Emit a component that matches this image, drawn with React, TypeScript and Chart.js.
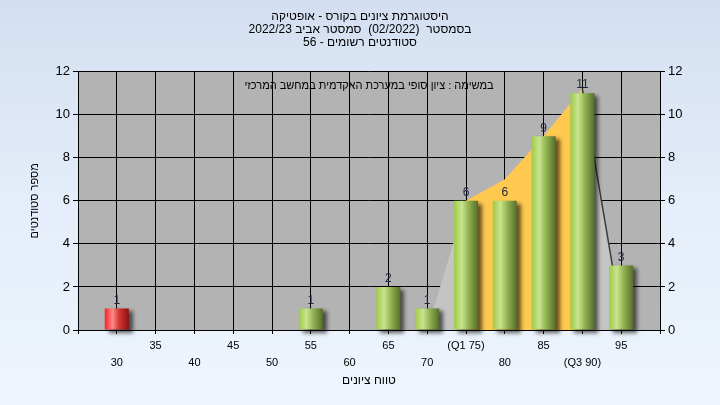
import React, { useEffect, useRef } from 'react';
import { Chart, registerables } from 'chart.js';

Chart.register(...registerables);

// ---- data ----
const categories = ['30', '35', '40', '45', '50', '55', '60', '65', '70', '(Q1 75)', '80', '85', '(Q3 90)', '95'];
const scores = [30, 35, 40, 45, 50, 55, 60, 65, 70, 75, 80, 85, 90, 95];
const counts = [1, 0, 0, 0, 0, 1, 0, 2, 1, 6, 6, 9, 11, 3];
const trend = [null, null, null, null, null, null, null, null, 0, 6, 7, 9, 11.2, 0.6];
const yTicks = [0, 2, 4, 6, 8, 10, 12];
const q1Score = 75;
const q3Score = 90;
const passScore = 55;
const titleLines = [
  'היסטוגרמת ציונים בקורס - אופטיקה',
  'בסמסטר  (02/2022)  סמסטר אביב 2022/23',
  'סטודנטים רשומים - 56',
];
const noteText = 'במשימה : ציון סופי במערכת האקדמית במחשב המרכזי';
const xTitle = 'טווח ציונים';
const yTitle = 'מספר סטודנטים';

// padded with an empty category on each side
const paddedLabels = ['', ...categories, ''].map((c, i) => {
  if (c === '') return ['', ''];
  const k = i - 1;
  return k % 2 === 1 ? [c, ''] : ['', c];
});
const paddedScores = [null, ...scores, null];
const paddedCounts = [null, ...counts, null];
const paddedTrend = [null, ...trend, null];

const FONT = 'Arial, "Liberation Sans", "DejaVu Sans", sans-serif';

function barFill(ctx: any) {
  const chart = ctx.chart;
  const score = paddedScores[ctx.dataIndex];
  const isRed = score !== null && (score as number) < passScore;
  const xs = chart.scales && chart.scales.x;
  if (!chart.chartArea || !xs) return isRed ? '#e03030' : '#90b848';
  const cx = xs.getPixelForValue(ctx.dataIndex);
  const step = Math.abs(xs.getPixelForValue(1) - xs.getPixelForValue(0));
  const half = (step * 0.62) / 2;
  const g = chart.ctx.createLinearGradient(cx - half, 0, cx + half, 0);
  if (isRed) {
    g.addColorStop(0, '#ff1c1c');
    g.addColorStop(0.32, '#ff8a8a');
    g.addColorStop(0.6, '#d23434');
    g.addColorStop(1, '#8e1010');
  } else {
    g.addColorStop(0, '#9fca48');
    g.addColorStop(0.32, '#c8e48e');
    g.addColorStop(0.6, '#93b352');
    g.addColorStop(1, '#566e2a');
  }
  return g;
}

const plotBgPlugin = {
  id: 'plotBg',
  beforeDraw(chart: any) {
    const { ctx, chartArea: a } = chart;
    ctx.save();
    ctx.fillStyle = '#b3b3b3';
    ctx.fillRect(a.left, a.top, a.right - a.left, a.bottom - a.top);
    ctx.restore();
  },
};

const shadowPlugin = {
  id: 'barShadow',
  beforeDatasetDraw(chart: any, args: any) {
    if (args.meta.type !== 'bar') return;
    const c = chart.ctx;
    c.save();
    c.shadowColor = 'rgba(0,0,0,0.6)';
    c.shadowBlur = 4;
    c.shadowOffsetX = 4;
    c.shadowOffsetY = 3;
  },
  afterDatasetDraw(chart: any, args: any) {
    if (args.meta.type !== 'bar') return;
    chart.ctx.restore();
  },
};

const labelsPlugin = {
  id: 'valueLabels',
  afterDatasetsDraw(chart: any) {
    const ctx = chart.ctx;
    chart.data.datasets.forEach((ds: any, di: number) => {
      if (ds.type !== 'bar') return;
      const meta = chart.getDatasetMeta(di);
      meta.data.forEach((el: any, i: number) => {
        const v = ds.data[i];
        if (!v) return;
        ctx.save();
        ctx.font = `12px ${FONT}`;
        ctx.fillStyle = '#1c2640';
        ctx.textAlign = 'center';
        ctx.textBaseline = 'bottom';
        ctx.fillText(String(v), el.x, el.y - 2);
        ctx.restore();
      });
    });
  },
  afterDraw(chart: any) {
    const { ctx, chartArea: a } = chart;
    ctx.save();
    ctx.font = `11px ${FONT}`;
    ctx.fillStyle = '#000';
    ctx.textAlign = 'center';
    ctx.textBaseline = 'middle';
    ctx.fillText(noteText, (a.left + a.right) / 2, a.top + 14);
    ctx.restore();
  },
};

export default function App() {
  const ref = useRef<HTMLCanvasElement | null>(null);

  useEffect(() => {
    document.body.style.margin = '0';
    const canvas = ref.current;
    if (!canvas) return;
    const inQ = (i: number) => {
      const s = paddedScores[i];
      return s !== null && (s as number) >= q1Score && (s as number) < q3Score;
    };
    const chart = new Chart(canvas, {
      data: {
        labels: paddedLabels as any,
        datasets: [
          {
            type: 'bar',
            data: paddedCounts as any,
            backgroundColor: barFill as any,
            borderWidth: 0,
            barPercentage: 0.62,
            categoryPercentage: 1,
            order: 1,
            clip: false as any,
            yAxisID: 'y',
          } as any,
          {
            type: 'line',
            data: paddedTrend as any,
            fill: 'origin',
            borderWidth: 1.5,
            pointRadius: 0,
            tension: 0,
            spanGaps: false,
            backgroundColor: '#c4c4c4',
            borderColor: 'rgba(0,0,0,0)',
            segment: {
              backgroundColor: (c: any) => (inQ(c.p0DataIndex) ? '#ffc94f' : '#c4c4c4'),
              borderColor: (c: any) => {
                const s = paddedScores[c.p0DataIndex];
                return s === q3Score ? '#3c3c3c' : 'rgba(0,0,0,0)';
              },
            },
            order: 2,
            yAxisID: 'y',
          } as any,
        ],
      },
      options: {
        responsive: false,
        animation: false,
        layout: { padding: 0 },
        font: { family: FONT } as any,
        plugins: {
          legend: { display: false },
          tooltip: { enabled: false },
          title: {
            display: true,
            text: titleLines,
            color: '#000',
            font: { family: FONT, size: 12, weight: 'normal', lineHeight: 1.1 },
            padding: { top: 10, bottom: 22 },
          },
        },
        scales: {
          x: {
            type: 'category',
            offset: false,
            grid: { color: '#000', lineWidth: 1, tickLength: 4, drawTicks: true, offset: false },
            border: { color: '#000' },
            ticks: {
              autoSkip: false,
              maxRotation: 0,
              minRotation: 0,
              padding: 3,
              color: '#000',
              font: { family: FONT, size: 11, lineHeight: '17px' } as any,
            },
            title: {
              display: true,
              text: xTitle,
              color: '#000',
              font: { family: FONT, size: 12 },
              padding: { top: 2, bottom: 17 },
            },
            afterFit(s: any) {
              s.height = 75;
            },
          },
          y: {
            position: 'left',
            min: 0,
            max: 12,
            afterBuildTicks(s: any) {
              s.ticks = yTicks.map((v) => ({ value: v }));
            },
            grid: { color: '#000', lineWidth: 1, tickLength: 5 },
            border: { color: '#000' },
            ticks: { color: '#000', padding: 3, font: { family: FONT, size: 13 } },
            title: {
              display: true,
              text: yTitle,
              color: '#000',
              font: { family: FONT, size: 11 },
              padding: { top: 28, bottom: 0 },
            },
            afterFit(s: any) {
              s.width = 78;
            },
          },
          y2: {
            position: 'right',
            min: 0,
            max: 12,
            afterBuildTicks(s: any) {
              s.ticks = yTicks.map((v) => ({ value: v }));
            },
            grid: { drawOnChartArea: false, color: '#000', tickLength: 5 },
            border: { color: '#000' },
            ticks: { color: '#000', padding: 3, font: { family: FONT, size: 13 } },
            afterFit(s: any) {
              s.width = 60;
            },
          },
        },
      } as any,
      plugins: [plotBgPlugin, shadowPlugin, labelsPlugin],
    });
    return () => chart.destroy();
  }, []);

  return (
    <div
      style={{
        width: 720,
        height: 405,
        background: 'linear-gradient(to bottom, #d3dff1 0%, #e4edf9 50%, #eef5fd 100%)',
      }}
    >
      <canvas ref={ref} width={720} height={405} style={{ display: 'block' }} />
    </div>
  );
}
